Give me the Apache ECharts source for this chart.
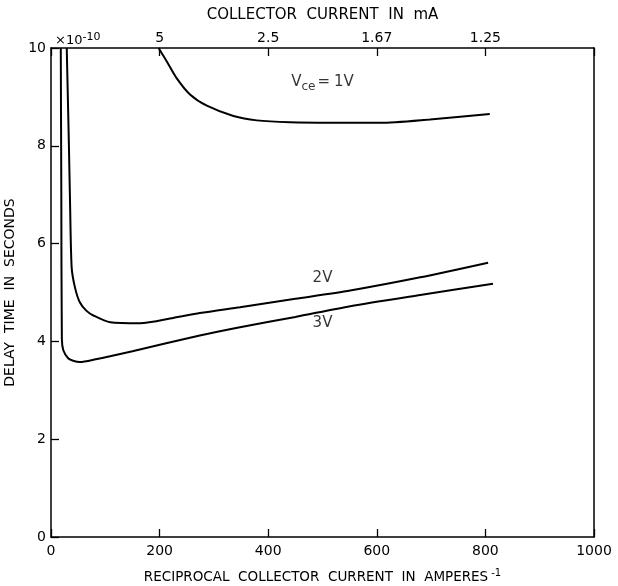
<!DOCTYPE html>
<html>
<head>
<meta charset="utf-8">
<script src="https://cdn.jsdelivr.net/npm/echarts@6/dist/echarts.min.js"></script>
<style>
  html, body { margin: 0; padding: 0; background: #fff; }
  #chart { width: 618px; height: 586px; }
</style>
</head>
<body>
<div id="chart"></div>
<script>
// reciprocal collector current (A^-1) vs delay time (x1e-10 s)
const v1X = [198, 213, 231, 256, 287, 336, 379, 440, 514, 606, 698, 808];
const v1Y = [10, 9.73, 9.39, 9.05, 8.82, 8.61, 8.52, 8.48, 8.47, 8.47, 8.54, 8.65];
const v2X = [29, 31, 33, 35, 38, 44, 53, 65, 78, 109, 164, 225, 274, 348, 450, 551, 680, 805];
const v2Y = [10, 9, 8, 6.88, 5.52, 5.11, 4.80, 4.63, 4.53, 4.39, 4.37, 4.48, 4.58, 4.70, 4.87, 5.04, 5.31, 5.61];
const v3X = [18, 19, 20, 22.7, 32, 42, 53, 80, 150, 274, 348, 450, 551, 680, 814];
const v3Y = [10, 7, 4.05, 3.82, 3.65, 3.60, 3.58, 3.63, 3.80, 4.12, 4.29, 4.50, 4.72, 4.95, 5.18];

// top axis: collector current in mA at the reciprocal positions
const topTicks = {200: '5', 400: '2.5', 600: '1.67', 800: '1.25'};

// curve labels
const labelPts = [
  {x: 500, y: 9.3, text: 'V{sub|ce}={one|1}V'},
  {x: 500, y: 5.3, text: '2V'},
  {x: 500, y: 4.38, text: '3V'}
];

const FONT = 'DejaVu Sans';
const INK = '#000';
const chart = echarts.init(document.getElementById('chart'));

function zip(xs, ys) {
  return xs.map((x, i) => [x, ys[i]]);
}

const curve = (name, xs, ys) => ({
  name: name,
  type: 'line',
  data: zip(xs, ys),
  showSymbol: false,
  smooth: 0.25,
  lineStyle: {color: INK, width: 2},
  itemStyle: {color: INK},
  clip: true
});

const axisLine = () => ({show: true, onZero: false, lineStyle: {color: INK, width: 1.5}});
const axisTick = () => ({show: true, inside: true, length: 8, lineStyle: {color: INK, width: 1.3}});

chart.setOption({
  animation: false,
  grid: {left: 51, right: 24, top: 48, bottom: 49, outerBoundsMode: 'none'},
  xAxis: [{
    type: 'value',
    min: 0, max: 1000, interval: 200,
    position: 'bottom',
    name: 'RECIPROCAL  COLLECTOR  CURRENT  IN  AMPERES{sup|-1}',
    nameLocation: 'middle',
    nameGap: 31,
    nameTextStyle: {
      fontFamily: FONT, fontSize: 13.5, color: INK,
      rich: {sup: {fontSize: 10, fontFamily: FONT, color: INK, padding: [0, 0, 9, 3]}}
    },
    axisLine: axisLine(),
    axisTick: axisTick(),
    axisLabel: {fontFamily: FONT, fontSize: 14, color: INK, margin: 7, formatter: v => String(v)},
    splitLine: {show: false}
  }, {
    type: 'value',
    min: 0, max: 1000, interval: 200,
    position: 'top',
    name: 'COLLECTOR  CURRENT  IN  mA',
    nameLocation: 'middle',
    nameGap: 25,
    nameTextStyle: {fontFamily: FONT, fontSize: 15, color: INK},
    axisLine: axisLine(),
    axisTick: axisTick(),
    axisLabel: {
      fontFamily: FONT, fontSize: 14, color: INK, margin: 3,
      formatter: v => topTicks[v] || ''
    },
    splitLine: {show: false}
  }],
  yAxis: [{
    type: 'value',
    min: 0, max: 10, interval: 2,
    position: 'left',
    name: 'DELAY  TIME  IN  SECONDS',
    nameLocation: 'middle',
    nameGap: 26,
    nameRotate: 90,
    nameTextStyle: {fontFamily: FONT, fontSize: 14, color: INK},
    axisLine: axisLine(),
    axisTick: axisTick(),
    axisLabel: {fontFamily: FONT, fontSize: 14, color: INK, margin: 5},
    splitLine: {show: false}
  }, {
    type: 'value',
    min: 0, max: 10, interval: 2,
    position: 'right',
    axisLine: axisLine(),
    axisTick: {show: false},
    axisLabel: {show: false},
    splitLine: {show: false}
  }],
  graphic: [{
    type: 'text',
    left: 55, top: 32,
    style: {
      text: '×10{sup|-10}',
      font: '13px ' + FONT,
      fill: INK,
      rich: {sup: {fontSize: 11, fontFamily: FONT, fill: INK, padding: [0, 0, 6, 0]}}
    }
  }],
  series: [
    curve('1V', v1X, v1Y),
    curve('2V', v2X, v2Y),
    curve('3V', v3X, v3Y),
    {
      type: 'scatter',
      symbolSize: 0,
      silent: true,
      data: labelPts.map(p => ({value: [p.x, p.y], name: p.text})),
      label: {
        show: true,
        position: 'inside',
        formatter: p => p.name,
        fontFamily: FONT,
        fontSize: 15,
        color: INK,
        rich: {
          sub: {fontSize: 12, fontFamily: FONT, color: INK, padding: [9, 2, 0, 0]},
          one: {fontSize: 15, fontFamily: FONT, color: INK, padding: [0, 0, 0, 4]}
        }
      }
    }
  ]
});
</script>
</body>
</html>
